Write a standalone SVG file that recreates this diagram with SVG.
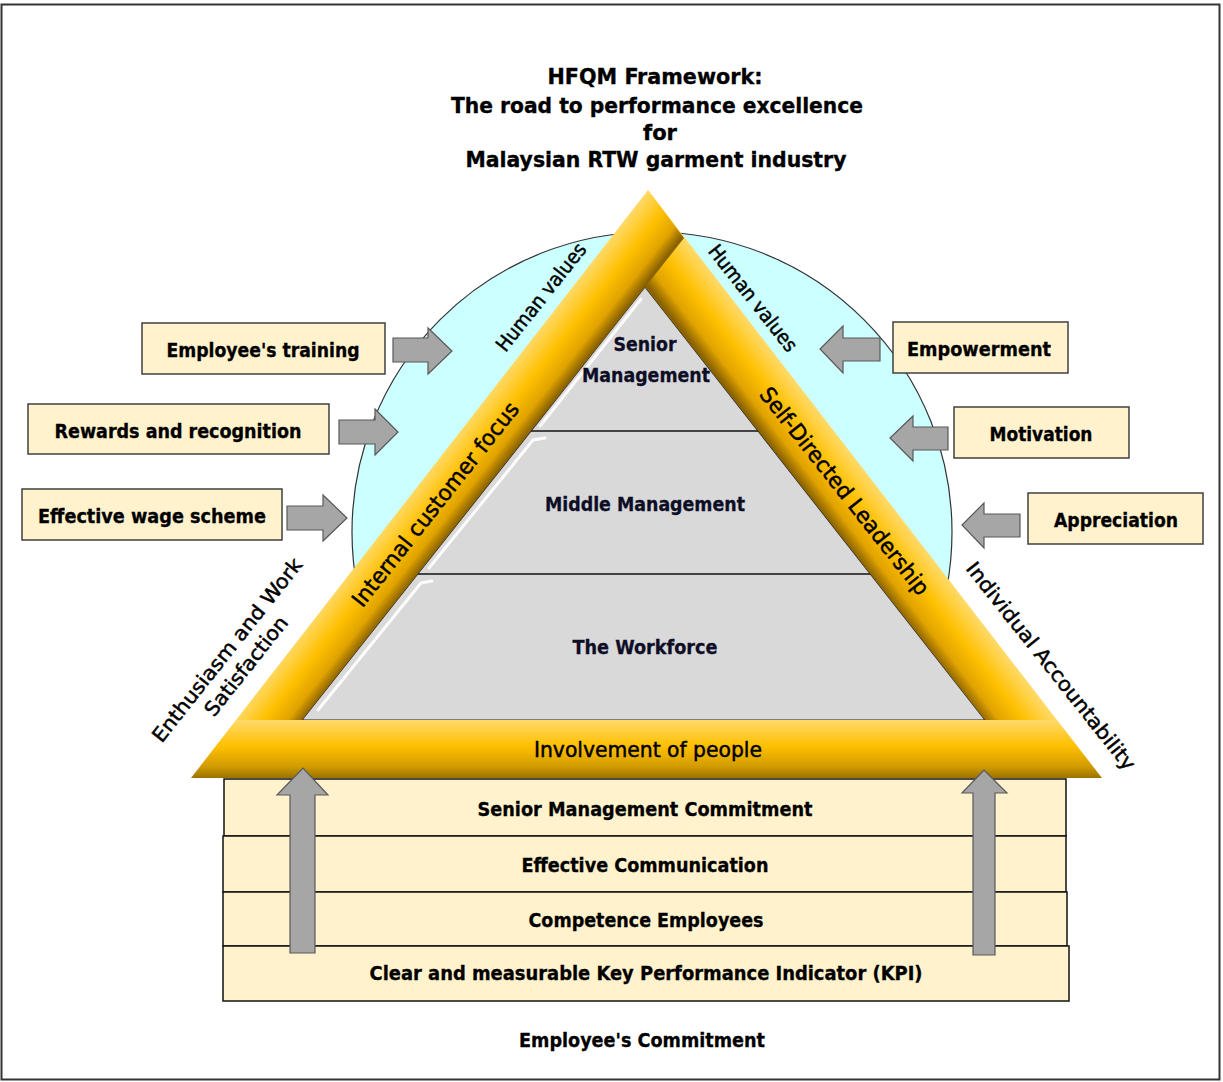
<svg xmlns="http://www.w3.org/2000/svg" width="1223" height="1082" viewBox="0 0 1223 1082">
<defs>
<linearGradient id="gLeft" gradientUnits="userSpaceOnUse" x1="404.7" y1="500" x2="448.7" y2="534.5">
<stop offset="0" stop-color="#FFDA6A"/><stop offset="0.45" stop-color="#FFC000"/><stop offset="0.78" stop-color="#E0A300"/><stop offset="1" stop-color="#8A6200"/>
</linearGradient>
<linearGradient id="gRight" gradientUnits="userSpaceOnUse" x1="887" y1="500" x2="840.6" y2="535.8">
<stop offset="0" stop-color="#FFDA6A"/><stop offset="0.45" stop-color="#FFC000"/><stop offset="0.78" stop-color="#E0A300"/><stop offset="1" stop-color="#8A6200"/>
</linearGradient>
<linearGradient id="gBottom" gradientUnits="userSpaceOnUse" x1="0" y1="720" x2="0" y2="778">
<stop offset="0" stop-color="#FFDA6A"/><stop offset="0.45" stop-color="#FFC000"/><stop offset="0.8" stop-color="#D29C00"/><stop offset="1" stop-color="#9A7200"/>
</linearGradient>
<clipPath id="clipTop"><rect x="0" y="0" width="1223" height="722"/></clipPath>
</defs>
<style>
.t{font-family:"DejaVu Sans Condensed","DejaVu Sans",Verdana,sans-serif;font-stretch:condensed;fill:#000}
.b{font-weight:bold;stroke:#000;stroke-width:0.3}
.lab{font-size:19px;font-weight:bold;text-anchor:middle;stroke:#000;stroke-width:0.3}
.base{font-size:20px;font-weight:bold;text-anchor:middle;stroke:#000;stroke-width:0.3}
.inner{font-size:20px;font-weight:bold;text-anchor:middle;fill:#0d0d26;stroke:#0d0d26;stroke-width:0.3}
.rot{font-size:20px;text-anchor:middle;stroke:#000;stroke-width:0.45}
.bar{font-size:22px;text-anchor:middle;stroke:#000;stroke-width:0.45}
.box{fill:#FFF2CC;stroke:#404040;stroke-width:1.5}
.bbox{fill:#FFF2CC;stroke:#111;stroke-width:1.5}
.arr{fill:#A6A6A6;stroke:#595959;stroke-width:1.2;stroke-linejoin:miter}
.hl{fill:none;stroke:#fff;stroke-width:3;stroke-linecap:round;opacity:0.9}
</style>
<rect x="1.5" y="4.5" width="1218" height="1075" fill="#fff" stroke="#333" stroke-width="2"/>

<g id="title">
<text class="t b" x="655" y="84" font-size="21" text-anchor="middle" textLength="215" lengthAdjust="spacingAndGlyphs">HFQM Framework:</text>
<text class="t b" x="657" y="113" font-size="21" text-anchor="middle" textLength="412" lengthAdjust="spacingAndGlyphs">The road to performance excellence</text>
<text class="t b" x="660" y="140" font-size="21" text-anchor="middle" textLength="34" lengthAdjust="spacingAndGlyphs">for</text>
<text class="t b" x="656" y="167" font-size="21" text-anchor="middle" textLength="381" lengthAdjust="spacingAndGlyphs">Malaysian RTW garment industry</text>
</g>

<g id="human-values-circle">
<circle cx="652" cy="532" r="300" fill="#CCFFFF" stroke="#333" stroke-width="1.2" clip-path="url(#clipTop)"/>
</g>

<g id="pyramid">
<polygon points="645,287 985,720 302,720" fill="#D9D9D9" stroke="#222" stroke-width="1.2"/>
<line x1="531" y1="431" x2="759" y2="431" stroke="#111" stroke-width="1.5"/>
<line x1="418" y1="574" x2="871" y2="574" stroke="#111" stroke-width="1.5"/>
<polyline class="hl" points="641,299 540,426"/>
<polyline class="hl" points="545,438 533,440 429,568"/>
<polyline class="hl" points="432,581 421,583 318,710"/>
</g>

<g id="senior-management">
<text class="t inner" x="645" y="351" textLength="63" lengthAdjust="spacingAndGlyphs">Senior</text>
<text class="t inner" x="646" y="382" textLength="128" lengthAdjust="spacingAndGlyphs">Management</text>
</g>
<g id="middle-management">
<text class="t inner" x="645" y="511" textLength="200" lengthAdjust="spacingAndGlyphs">Middle  Management</text>
</g>
<g id="workforce">
<text class="t inner" x="645" y="654" textLength="145" lengthAdjust="spacingAndGlyphs">The Workforce</text>
</g>

<g id="self-directed-leadership">
<polygon points="648,190 1057,720 985,720 645,287" fill="url(#gRight)"/>
<text class="t bar" transform="translate(845,491) rotate(51.6)" x="0" y="8" textLength="258" lengthAdjust="spacingAndGlyphs">Self-Directed Leadership</text>
</g>
<g id="internal-customer-focus">
<polygon points="648,190 684,238 302,720 236,720" fill="url(#gLeft)"/>
<text class="t bar" transform="translate(435,504) rotate(-51.6)" x="0" y="8" textLength="254" lengthAdjust="spacingAndGlyphs">Internal customer focus</text>
</g>
<g id="involvement-of-people">
<polygon points="236,720 1057,720 1102,778 191,778" fill="url(#gBottom)"/>
<text class="t bar" x="648" y="757" textLength="228" lengthAdjust="spacingAndGlyphs">Involvement of people</text>
</g>

<g id="labels">
<text class="t rot" transform="translate(541,297) rotate(-51.6)" x="0" y="7" textLength="132" lengthAdjust="spacingAndGlyphs">Human values</text>
<text class="t rot" transform="translate(753,298) rotate(51.6)" x="0" y="7" textLength="130" lengthAdjust="spacingAndGlyphs">Human values</text>
<text class="t rot" transform="translate(227,650) rotate(-51.6)" x="0" y="7" textLength="228" lengthAdjust="spacingAndGlyphs">Enthusiasm and Work</text>
<text class="t rot" transform="translate(246,666) rotate(-51.6)" x="0" y="7" textLength="121" lengthAdjust="spacingAndGlyphs">Satisfaction</text>
<text class="t rot" transform="translate(1051,666) rotate(51.6)" x="0" y="7" textLength="259" lengthAdjust="spacingAndGlyphs">Individual Accountability</text>
</g>

<g id="employees-training">
<rect class="box" x="142" y="323" width="243" height="51"/>
<text class="t lab" x="263" y="357" textLength="193" lengthAdjust="spacingAndGlyphs">Employee's training</text>
</g>
<g id="rewards-recognition">
<rect class="box" x="28" y="404" width="301" height="50"/>
<text class="t lab" x="178" y="438" textLength="247" lengthAdjust="spacingAndGlyphs">Rewards and recognition</text>
</g>
<g id="effective-wage-scheme">
<rect class="box" x="22" y="489" width="260" height="51"/>
<text class="t lab" x="152" y="523" textLength="228" lengthAdjust="spacingAndGlyphs">Effective  wage scheme</text>
</g>
<g id="empowerment">
<rect class="box" x="893" y="322" width="175" height="51"/>
<text class="t lab" x="979" y="356" textLength="144" lengthAdjust="spacingAndGlyphs">Empowerment</text>
</g>
<g id="motivation">
<rect class="box" x="954" y="407" width="175" height="51"/>
<text class="t lab" x="1041" y="441" textLength="103" lengthAdjust="spacingAndGlyphs">Motivation</text>
</g>
<g id="appreciation">
<rect class="box" x="1028" y="493" width="175" height="51"/>
<text class="t lab" x="1116" y="527" textLength="124" lengthAdjust="spacingAndGlyphs">Appreciation</text>
</g>

<g id="senior-management-commitment">
<rect class="bbox" x="224" y="779" width="842" height="57"/>
<text class="t base" x="645" y="816" textLength="335" lengthAdjust="spacingAndGlyphs">Senior Management  Commitment</text>
</g>
<g id="effective-communication">
<rect class="bbox" x="223" y="836" width="843" height="56"/>
<text class="t base" x="645" y="872" textLength="247" lengthAdjust="spacingAndGlyphs">Effective  Communication</text>
</g>
<g id="competence-employees">
<rect class="bbox" x="223" y="892" width="844" height="54"/>
<text class="t base" x="646" y="927" textLength="235" lengthAdjust="spacingAndGlyphs">Competence Employees</text>
</g>
<g id="kpi">
<rect class="bbox" x="223" y="946" width="846" height="55"/>
<text class="t base" x="646" y="980" textLength="553" lengthAdjust="spacingAndGlyphs">Clear and measurable  Key Performance Indicator (KPI)</text>
</g>
<g id="employees-commitment">
<text class="t base" x="642" y="1047" textLength="246" lengthAdjust="spacingAndGlyphs">Employee's Commitment</text>
</g>

<g id="connectors">
<polygon class="arr" points="393,338 428,338 428,328 452,351 428,374 428,362 393,362"/>
<polygon class="arr" points="339,420 375,420 375,409 398,432 375,455 375,444 339,444"/>
<polygon class="arr" points="287,506 323,506 323,495 347,518 323,541 323,530 287,530"/>
<polygon class="arr" points="880,338 843,338 843,326 820,349 843,373 843,361 880,361"/>
<polygon class="arr" points="948,427 913,427 913,416 890,438 913,461 913,450 948,450"/>
<polygon class="arr" points="1020,514 984,514 984,503 962,525 984,548 984,537 1020,537"/>
<polygon class="arr" points="290,953 290,795 277,795 303,768 328,795 315,795 315,953"/>
<polygon class="arr" points="973,955 973,793 962,793 984,770 1007,793 995,793 995,955"/>
</g>
</svg>
